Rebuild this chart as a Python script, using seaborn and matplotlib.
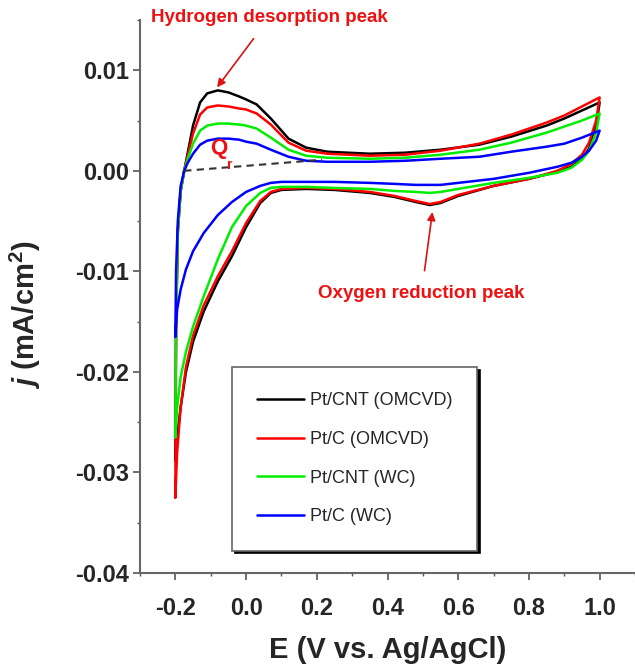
import matplotlib
matplotlib.use("Agg")
import matplotlib.pyplot as plt
import numpy as np
import pandas as pd
import seaborn as sns

# sample names and colours
samples = ["Pt/CNT (OMCVD)", "Pt/C (OMCVD)", "Pt/CNT (WC)", "Pt/C (WC)"]
colors = ["#000000", "#ff0000", "#00ee00", "#0000ff"]

# anodic sweep (-0.2 -> 1.0 V)
up_x = [-0.2, -0.198, -0.193, -0.185, -0.175, -0.165, -0.15, -0.13, -0.11, -0.08, -0.05,
        -0.02, 0.0, 0.03, 0.07, 0.12, 0.17, 0.23, 0.35, 0.45, 0.55, 0.66, 0.75, 0.85,
        0.9, 0.95, 1.0]
up_black = [-0.0288, -0.015, -0.006, -0.002, 0.0, 0.0018, 0.0045, 0.0068, 0.0077, 0.0080,
            0.0078, 0.0074, 0.0071, 0.0066, 0.0052, 0.0032, 0.0023, 0.0019, 0.0017, 0.0018,
            0.0021, 0.0026, 0.0034, 0.0045, 0.0052, 0.0060, 0.0068]
up_red = [-0.0325, -0.016, -0.006, -0.002, 0.0, 0.0015, 0.0037, 0.0056, 0.0063, 0.0065,
          0.0064, 0.0062, 0.0061, 0.0057, 0.0046, 0.0028, 0.0020, 0.0017, 0.0015, 0.0016,
          0.0020, 0.0027, 0.0036, 0.0048, 0.0055, 0.0064, 0.0073]
up_green = [-0.0265, -0.015, -0.006, -0.002, 0.0, 0.0012, 0.0027, 0.0040, 0.0045, 0.0047,
            0.0047, 0.0046, 0.0045, 0.0042, 0.0033, 0.0021, 0.0015, 0.0013, 0.0012, 0.0013,
            0.0016, 0.0021, 0.0028, 0.0038, 0.0044, 0.0050, 0.0057]
up_blue = [-0.0165, -0.010, -0.005, -0.0015, 0.0, 0.0008, 0.0017, 0.0026, 0.0030, 0.0032,
           0.0032, 0.0031, 0.0029, 0.0027, 0.0021, 0.0014, 0.0010, 0.0009, 0.0009, 0.0010,
           0.0012, 0.0014, 0.0019, 0.0024, 0.0027, 0.0033, 0.0040]

# cathodic sweep (1.0 -> -0.2 V)
down_x = [1.0, 0.99, 0.97, 0.95, 0.92, 0.88, 0.8, 0.7, 0.6, 0.55, 0.52, 0.48, 0.42, 0.35,
          0.25, 0.17, 0.1, 0.07, 0.04, 0.0, -0.04, -0.08, -0.12, -0.15, -0.17, -0.185,
          -0.195, -0.2]
down_black = [0.0068, 0.0045, 0.0022, 0.0012, 0.0004, -0.0001, -0.0008, -0.0015, -0.0025,
              -0.0032, -0.0034, -0.0031, -0.0026, -0.0022, -0.0019, -0.0018, -0.0019,
              -0.0022, -0.0032, -0.0056, -0.0085, -0.0110, -0.0140, -0.0170, -0.0200,
              -0.0235, -0.0265, -0.0288]
down_red = [0.0073, 0.0050, 0.0028, 0.0016, 0.0007, 0.0000, -0.0008, -0.0015, -0.0024,
            -0.0031, -0.0033, -0.0030, -0.0025, -0.0021, -0.0018, -0.0017, -0.0018,
            -0.0021, -0.0030, -0.0052, -0.0080, -0.0105, -0.0134, -0.0164, -0.0195,
            -0.0235, -0.0280, -0.0325]
down_green = [0.0057, 0.0038, 0.0020, 0.0011, 0.0003, -0.0002, -0.0007, -0.0012, -0.0018,
              -0.0021, -0.0022, -0.0021, -0.0020, -0.0018, -0.0017, -0.0016, -0.0016,
              -0.0017, -0.0022, -0.0035, -0.0056, -0.0088, -0.0125, -0.0155, -0.0180,
              -0.0205, -0.0235, -0.0265]
down_blue = [0.0040, 0.0030, 0.0020, 0.0014, 0.0008, 0.0004, -0.0002, -0.0008, -0.0012,
             -0.0014, -0.0014, -0.0014, -0.0013, -0.0012, -0.0011, -0.0011, -0.0011,
             -0.0012, -0.0015, -0.0021, -0.0031, -0.0044, -0.0062, -0.0080, -0.0098,
             -0.0118, -0.0138, -0.0165]

# Qr baseline (dashed)
qr_x = [-0.175, 0.215]
qr_y = [0.0, 0.0011]

ups = [up_black, up_red, up_green, up_blue]
downs = [down_black, down_red, down_green, down_blue]

rows = []
for name, uy, dy in zip(samples, ups, downs):
    for x, y in zip(up_x + down_x, uy + dy):
        rows.append((name, x, y))
df = pd.DataFrame(rows, columns=["sample", "E", "j"])

sns.set_theme(style="ticks")
plt.rcParams["font.family"] = ["Liberation Sans", "DejaVu Sans"]
plt.rcParams["mathtext.fontset"] = "custom"
plt.rcParams["mathtext.rm"] = "Liberation Sans:bold"
plt.rcParams["mathtext.it"] = "Liberation Sans:italic:bold"
plt.rcParams["mathtext.bf"] = "Liberation Sans:bold"

fig = plt.figure(figsize=(6.35, 6.66), dpi=100)
ax = fig.add_axes([140 / 635, 93 / 666, 495 / 635, 553 / 666])

sns.lineplot(data=df, x="E", y="j", hue="sample", hue_order=samples,
             palette=colors, sort=False, estimator=None, lw=1.8, ax=ax)

ax.plot(qr_x, qr_y, ls=(0, (3.5, 2.5)), color="#333333", lw=1.5)

ax.set_xlim(-0.3, 1.1)
ax.set_ylim(-0.04, 0.015)
ax.set_xticks([-0.2, 0.0, 0.2, 0.4, 0.6, 0.8, 1.0])
ax.set_xticks(np.arange(-0.3, 1.11, 0.1), minor=True)
ax.set_yticks([-0.04, -0.03, -0.02, -0.01, 0.0, 0.01])
ax.set_yticks(np.arange(-0.035, 0.0151, 0.01), minor=True)
ax.set_xticklabels(["-0.2", "0.0", "0.2", "0.4", "0.6", "0.8", "1.0"])
ax.set_yticklabels(["-0.04", "-0.03", "-0.02", "-0.01", "0.00", "0.01"])

for s in ["top", "right"]:
    ax.spines[s].set_visible(False)
for s in ["left", "bottom"]:
    ax.spines[s].set_color("#666666")
    ax.spines[s].set_linewidth(1.5)

ax.tick_params(axis="both", which="major", direction="out", length=5, width=1.2,
               color="#555555", labelsize=17)
ax.tick_params(axis="both", which="minor", direction="out", length=2.5, width=1.0,
               color="#555555")
ax.tick_params(axis="x", which="major", pad=12)
ax.tick_params(axis="y", which="major", pad=3)
for lab in ax.get_xticklabels() + ax.get_yticklabels():
    lab.set_fontweight("bold")

ax.set_xlabel("E (V vs. Ag/AgCl)", fontsize=21, fontweight="bold", labelpad=12)
ax.set_ylabel("$j$ (mA/cm$^{2}$)", fontsize=21, fontweight="bold")
ax.yaxis.set_label_coords(-0.196, 0.4665)

# annotations
ax.annotate("Hydrogen desorption peak", xy=(-0.082, 0.0083), xytext=(0.065, 0.0152),
            ha="center", va="center", color="#ee1111", fontsize=13.5, fontweight="bold",
            annotation_clip=False,
            arrowprops=dict(arrowstyle="-|>", color="#dd1111", lw=1.2,
                            mutation_scale=12, shrinkA=8, shrinkB=0))
ax.annotate("Oxygen reduction peak", xy=(0.527, -0.0041), xytext=(0.496, -0.0122),
            ha="center", va="center", color="#ee1111", fontsize=13.5, fontweight="bold",
            arrowprops=dict(arrowstyle="-|>", color="#dd1111", lw=1.2,
                            mutation_scale=12, shrinkA=8, shrinkB=0))
ax.text(-0.078, 0.0022, "Q", color="#ee1111", fontsize=16, fontweight="bold",
        ha="center", va="center")
ax.text(-0.046, 0.0006, "r", color="#ee1111", fontsize=10, fontweight="bold",
        ha="center", va="center")

leg = ax.legend(loc="upper left", bbox_to_anchor=(0.186, 0.3725), borderaxespad=0,
                fontsize=13, frameon=True, fancybox=False,
                shadow={"color": "black", "alpha": 1.0},
                borderpad=1.4, labelspacing=1.2, handlelength=2.6, handletextpad=0.3)
leg.get_frame().set_edgecolor("#666666")
leg.get_frame().set_linewidth(1.2)
leg.get_frame().set_alpha(1.0)
for line in leg.get_lines():
    line.set_linewidth(1.8)

fig.savefig("out.png", dpi=100)
